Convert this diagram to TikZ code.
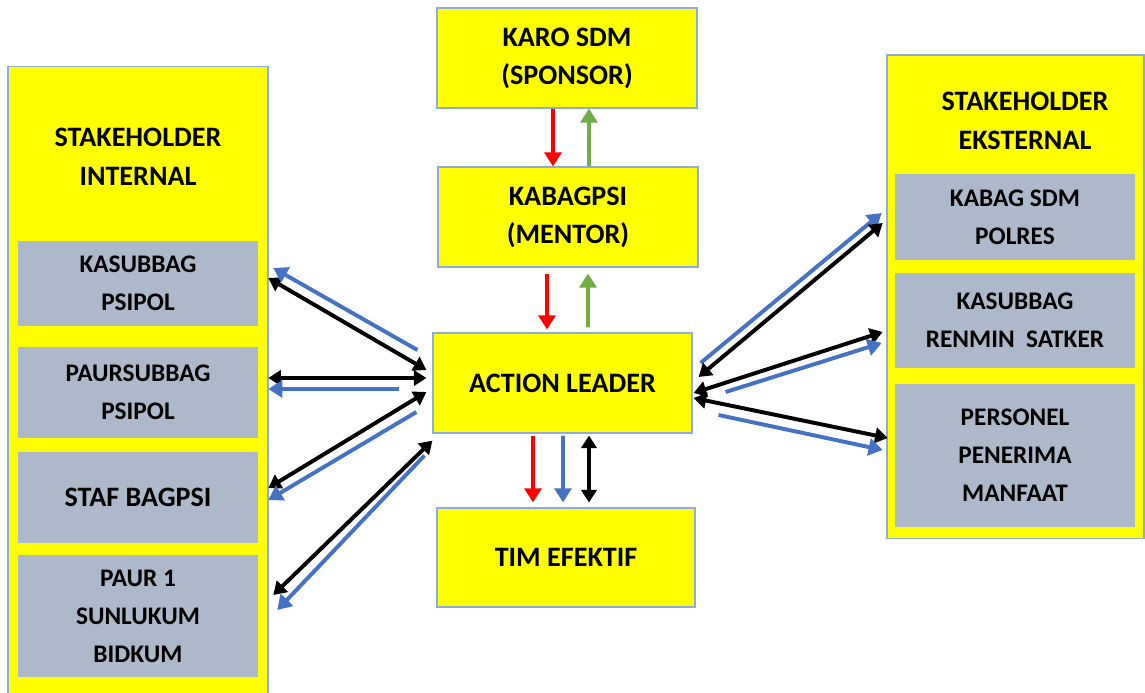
\documentclass[tikz,border=0pt]{standalone}
\usepackage{fontspec}
\setmainfont{Carlito}
\usetikzlibrary{arrows.meta,calc}

\definecolor{boxyellow}{HTML}{FFFF00}
\definecolor{boxgray}{HTML}{ADB9CA}
\definecolor{edgeblue}{HTML}{8FAADC}
\definecolor{arrblue}{HTML}{4472C4}
\definecolor{arrgreen}{HTML}{70AD47}
\definecolor{arrred}{HTML}{FF0000}

\begin{document}
\begin{tikzpicture}[x=0.025cm,y=-0.025cm,
 ybox/.style={draw=edgeblue,line width=0.8pt,fill=boxyellow,minimum width=6.5cm,minimum height=2.5cm,align=center,font=\fontsize{20}{27}\selectfont\bfseries},
 gbox/.style={fill=boxgray,minimum width=6cm,align=center,inner sep=0pt,font=\fontsize{18}{27}\selectfont\bfseries},
 head/.style={align=center,font=\fontsize{20}{28}\selectfont\bfseries},
 link/.style={line width=2.8pt,-{Triangle[width=12pt,length=10pt]}},
 both/.style={line width=2.8pt,{Triangle[width=11pt,length=9pt]}-{Triangle[width=11pt,length=9pt]}}]
 \useasboundingbox (0,0) rectangle (1145,692);
 % panels
 \node[ybox,minimum height=16.3cm] (intl) at (138,393) {};
 \node[ybox,minimum width=6.425cm,minimum height=12.075cm] (extl) at (1015.5,296.5) {};
 \node[head] (intlhead) at (138,157) {STAKEHOLDER\\INTERNAL};
 \node[head] (extlhead) at (1025,121) {STAKEHOLDER\\EKSTERNAL};
 \node[gbox,minimum height=2.125cm] (ksb) at (138,283.5) {KASUBBAG\\PSIPOL};
 \node[gbox,minimum height=2.275cm] (paur) at (138,392.5) {PAURSUBBAG\\PSIPOL};
 \node[gbox,minimum height=2.275cm,font=\fontsize{20}{27}\selectfont\bfseries] (staf) at (138,497.5) {STAF BAGPSI};
 \node[gbox,minimum height=3.05cm] (paur1) at (138,616) {PAUR 1\\SUNLUKUM\\BIDKUM};
 \node[gbox,minimum height=2.15cm] (kabag) at (1015,217) {KABAG SDM\\POLRES};
 \node[gbox,minimum height=2.375cm] (renmin) at (1015,320.5) {KASUBBAG\\RENMIN\ \ SATKER};
 \node[gbox,minimum height=3.575cm] (pers) at (1015,455.5) {PERSONEL\\PENERIMA\\MANFAAT};
 % center
 \node[ybox] (karo) at (567,58) {KARO SDM\\(SPONSOR)};
 \node[ybox] (kbp) at (568,217) {KABAGPSI\\(MENTOR)};
 \node[ybox,minimum width=6.475cm] (al) at (562.5,383) {ACTION LEADER};
 \node[ybox,minimum width=6.45cm,minimum height=2.475cm] (tim) at (566,557.5) {TIM EFEKTIF};
 % vertical
 \draw[link,arrred] ($(karo.south)+(-14,0)$) -- ($(kbp.north)+(-15,0)$);
 \draw[link,arrgreen] ($(kbp.north)+(21,0)$) -- ($(karo.south)+(22,0)$);
 \draw[link,arrred] ($(kbp.south)+(-21,6)$) -- ($(al.north)+(-15.5,-3)$);
 \draw[link,arrgreen] ($(al.north)+(25.5,-5)$) -- ($(kbp.south)+(20,6)$);
 \draw[link,arrred] ($(al.south)+(-29.5,2)$) -- ($(tim.north)+(-33,-5)$);
 \draw[link,arrblue] ($(al.south)+(0.5,2)$) -- ($(tim.north)+(-3,-5)$);
 \draw[both,black] ($(al.south)+(26.5,2)$) -- ($(tim.north)+(23,-5)$);
 % left
 \draw[both,black] ($(ksb.east)+(10,-5.5)$) -- ($(al.west)+(-6,-13)$);
 \draw[link,arrblue] ($(al.west)+(-15,-33)$) -- ($(ksb.east)+(15,-15.5)$);
 \draw[both,black] ($(paur.east)+(10,-14.5)$) -- ($(al.west)+(-6,-5)$);
 \draw[link,arrblue] ($(al.west)+(-33,6)$) -- ($(paur.east)+(10,-3.5)$);
 \draw[both,black] ($(staf.east)+(10,-9.5)$) -- ($(al.west)+(-6,9)$);
 \draw[link,arrblue] ($(al.west)+(-16,29)$) -- ($(staf.east)+(10,2.5)$);
 \draw[both,black] ($(paur1.east)+(15,-21)$) -- ($(al.south west)+(0,7)$);
 \draw[link,arrblue] ($(al.south west)+(-8,22)$) -- ($(paur1.east)+(19,-6)$);
 % right
 \draw[link,arrblue] ($(al.east)+(8,-20)$) -- ($(kabag.west)+(-13,-4)$);
 \draw[both,black] ($(al.east)+(6,-6)$) -- ($(kabag.west)+(-12,6)$);
 \draw[both,black] ($(al.east)+(1,10)$) -- ($(renmin.west)+(-12,11.5)$);
 \draw[link,arrblue] ($(al.east)+(33,9)$) -- ($(renmin.west)+(-13,22.5)$);
 \draw[both,black] ($(al.east)+(1,15)$) -- ($(pers.west)+(-7,-17.5)$);
 \draw[link,arrblue] ($(al.east)+(26,32)$) -- ($(pers.west)+(-12,-5.5)$);
\end{tikzpicture}
\end{document}
